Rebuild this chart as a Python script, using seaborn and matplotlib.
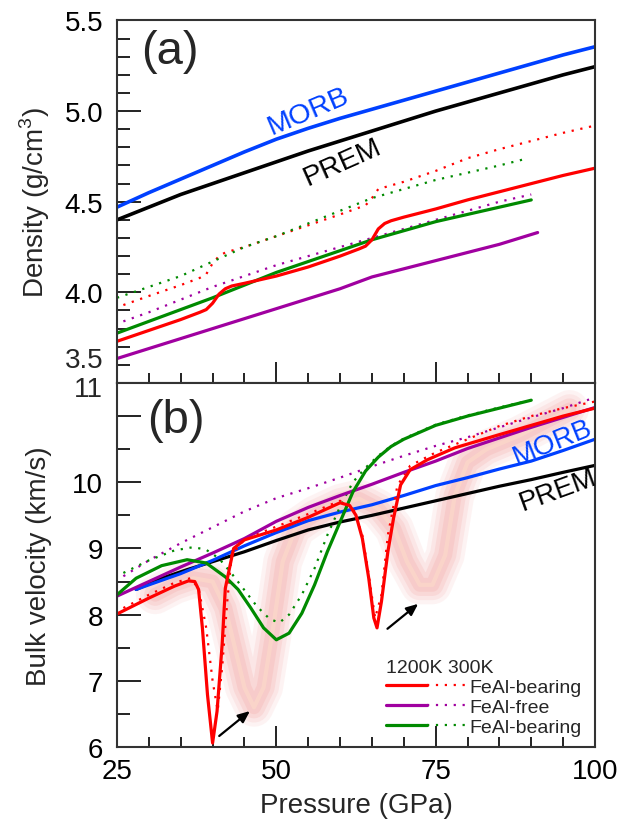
import matplotlib
matplotlib.use("Agg")
import matplotlib.pyplot as plt
import matplotlib.transforms as mtransforms
import seaborn as sns
import numpy as np
from matplotlib.lines import Line2D
from matplotlib.legend_handler import HandlerTuple
from matplotlib.ticker import MultipleLocator, FuncFormatter

# ---------------- data: panel (a) density ----------------
P_ref_a = [25, 30, 35, 40, 45, 50, 55, 60, 65, 70, 75, 80, 85, 90, 95, 100]
morb_a = [4.47, 4.55, 4.625, 4.70, 4.775, 4.845, 4.905, 4.96, 5.01, 5.06, 5.11, 5.16, 5.21, 5.26, 5.31, 5.355]
prem_a = [4.40, 4.47, 4.54, 4.60, 4.66, 4.72, 4.78, 4.835, 4.89, 4.945, 5.0, 5.05, 5.10, 5.15, 5.20, 5.245]

P_red_a = [25, 30, 35, 38, 39, 40, 41, 42, 43, 45, 50, 55, 60, 63, 64, 65, 66, 67, 68, 70, 75, 80, 85, 90, 95, 100]
red_hot_a = [3.73, 3.79, 3.85, 3.89, 3.905, 3.94, 3.99, 4.02, 4.035, 4.05, 4.09, 4.14, 4.20, 4.24, 4.255, 4.29, 4.35, 4.38, 4.395, 4.415, 4.46, 4.51, 4.555, 4.60, 4.645, 4.685]
P_red_cold_a = [26, 30, 35, 38, 39, 40, 41, 42, 45, 50, 55, 60, 64, 65, 66, 70, 75, 80, 85, 90, 95, 100]
red_cold_a = [3.93, 3.98, 4.04, 4.08, 4.10, 4.16, 4.20, 4.22, 4.25, 4.31, 4.37, 4.43, 4.48, 4.52, 4.57, 4.61, 4.67, 4.74, 4.79, 4.835, 4.88, 4.92]

P_pur_a = [25, 30, 35, 40, 45, 50, 55, 60, 65, 70, 75, 80, 85, 91]
pur_hot_a = [3.635, 3.69, 3.745, 3.80, 3.855, 3.91, 3.965, 4.02, 4.085, 4.13, 4.175, 4.22, 4.265, 4.33]
P_pur_cold_a = [26, 30, 35, 40, 45, 50, 55, 60, 65, 70, 75, 80, 85, 90]
pur_cold_a = [3.84, 3.89, 3.96, 4.03, 4.09, 4.15, 4.20, 4.25, 4.30, 4.35, 4.40, 4.45, 4.50, 4.54]

P_grn_a = [25, 30, 35, 40, 45, 50, 55, 60, 65, 70, 75, 80, 85, 90]
grn_hot_a = [3.775, 3.84, 3.905, 3.97, 4.04, 4.11, 4.17, 4.23, 4.29, 4.34, 4.39, 4.43, 4.47, 4.51]
P_grn_cold_a = [25, 30, 35, 40, 45, 50, 55, 60, 65, 70, 75, 80, 85, 89.5]
grn_cold_a = [3.97, 4.03, 4.09, 4.17, 4.25, 4.31, 4.38, 4.45, 4.52, 4.57, 4.62, 4.66, 4.70, 4.74]

# ---------------- data: panel (b) bulk velocity ----------------
P_prem_b = [28, 32, 36, 40, 45, 50, 55, 60, 65, 70, 75, 80, 85, 90, 95, 100]
prem_b = [8.38, 8.55, 8.68, 8.80, 8.95, 9.12, 9.28, 9.40, 9.50, 9.61, 9.72, 9.83, 9.94, 10.04, 10.15, 10.255]
P_morb_b = [28, 30, 35, 40, 45, 50, 55, 60, 65, 70, 75, 80, 85, 90, 95, 100]
morb_b = [8.38, 8.45, 8.62, 8.82, 9.04, 9.24, 9.42, 9.55, 9.66, 9.80, 9.95, 10.07, 10.20, 10.32, 10.48, 10.65]

P_pur_b = [25, 30, 35, 40, 45, 50, 55, 60, 65, 70, 75, 80, 85, 90, 95, 100]
pur_hot_b = [8.28, 8.50, 8.72, 8.93, 9.15, 9.41, 9.62, 9.80, 9.97, 10.15, 10.32, 10.51, 10.67, 10.83, 10.98, 11.13]
P_pur_cold_b = [26, 30, 35, 40, 45, 50, 55, 60, 65, 70, 75, 80, 85, 90, 95, 100]
pur_cold_b = [8.58, 8.82, 9.08, 9.32, 9.56, 9.76, 9.91, 10.07, 10.24, 10.40, 10.55, 10.68, 10.83, 10.98, 11.12, 11.28]

P_red_b = [25, 30, 34, 36.2, 37.2, 37.8, 38.4, 39.2, 40.0, 40.7, 41.5, 42.0, 43.3, 45, 50, 55, 60, 61.5, 62.5, 63.5, 64.5, 65.3, 65.8, 66.5, 67.5, 68.4, 69.5, 71, 73.7, 78, 85, 90, 95, 100]
red_hot_b = [8.01, 8.25, 8.43, 8.51, 8.50, 8.38, 7.80, 6.79, 6.06, 6.54, 7.55, 8.40, 9.00, 9.13, 9.28, 9.47, 9.69, 9.65, 9.50, 9.15, 8.55, 7.95, 7.80, 8.20, 8.95, 9.46, 9.96, 10.19, 10.34, 10.52, 10.72, 10.86, 11.00, 11.12]
P_red_cold_b = [26, 30, 34, 36.5, 37.8, 39, 40, 40.8, 41.5, 42.3, 43, 45, 50, 55, 60, 62, 63.5, 64.5, 65.5, 66.5, 67.5, 69, 71, 75, 80, 85, 90, 95, 100]
red_cold_b = [8.10, 8.30, 8.48, 8.55, 8.40, 7.80, 7.00, 6.55, 7.20, 8.20, 8.90, 9.14, 9.33, 9.52, 9.72, 9.62, 9.20, 8.60, 7.95, 8.30, 9.20, 9.95, 10.25, 10.45, 10.65, 10.85, 11.00, 11.12, 11.22]

P_grn_b = [25, 28, 32, 36, 39, 42, 44, 46, 48, 50, 52, 54, 56, 58, 60, 62, 64, 66, 68, 70, 75, 80, 85, 90]
grn_hot_b = [8.30, 8.55, 8.74, 8.83, 8.78, 8.57, 8.38, 8.10, 7.80, 7.62, 7.72, 8.02, 8.45, 8.95, 9.40, 9.85, 10.17, 10.38, 10.54, 10.65, 10.86, 11.00, 11.12, 11.24]
P_grn_cold_b = [26, 30, 34, 37, 39, 41, 43, 45, 47, 49, 50.5, 52, 54, 56, 58, 60, 62, 64, 66, 68, 70, 75, 80, 85, 89]
grn_cold_b = [8.63, 8.82, 8.97, 9.02, 8.98, 8.85, 8.62, 8.37, 8.12, 7.93, 7.88, 8.00, 8.30, 8.70, 9.20, 9.63, 10.00, 10.22, 10.40, 10.55, 10.66, 10.87, 11.01, 11.13, 11.22]

# highlighted (shifted) trend
P_glow = [31, 34, 37, 40, 42, 43.5, 45, 46.5, 48, 49.5, 51, 53, 56, 60, 63, 66, 68.5, 70.5, 72.5, 74.5, 76.5, 78, 80, 83, 88, 93, 96]
glow = [8.30, 8.45, 8.55, 8.50, 8.10, 7.50, 6.90, 6.60, 6.90, 7.80, 8.80, 9.30, 9.50, 9.68, 9.75, 9.60, 9.30, 8.80, 8.45, 8.45, 8.90, 9.80, 10.30, 10.50, 10.70, 10.95, 11.10]

legend_labels = ["FeAl-bearing", "FeAl-free", "FeAl-bearing"]

RED, PUR, GRN, BLU, BLK = "#ff0000", "#a000a0", "#008a00", "#0040ff", "#000000"
DOT = (0, (1, 3))

sns.set_style("ticks")
plt.rcParams["font.family"] = ["Liberation Sans", "DejaVu Sans"]
plt.rcParams["mathtext.fontset"] = "custom"
plt.rcParams["mathtext.rm"] = "Liberation Sans"

fig = plt.figure(figsize=(6.19, 8.29), dpi=100)
ax_a = fig.add_axes([0.189, 0.5368, 0.7722, 0.4373])
ax_b = fig.add_axes([0.189, 0.0977, 0.7722, 0.4391])


def draw(ax, x, y, color, dotted=False, lw=2.3, **kw):
    if dotted:
        sns.lineplot(x=x, y=y, ax=ax, color=color, lw=1.6, linestyle=DOT,
                     sort=False, estimator=None, errorbar=None, **kw)
    else:
        sns.lineplot(x=x, y=y, ax=ax, color=color, lw=lw,
                     sort=False, estimator=None, errorbar=None, **kw)


# panel (a)
draw(ax_a, P_ref_a, morb_a, BLU, lw=2.6)
draw(ax_a, P_ref_a, prem_a, BLK, lw=2.6)
draw(ax_a, P_red_cold_a, red_cold_a, RED, dotted=True)
draw(ax_a, P_pur_cold_a, pur_cold_a, PUR, dotted=True)
draw(ax_a, P_grn_cold_a, grn_cold_a, GRN, dotted=True)
draw(ax_a, P_pur_a, pur_hot_a, PUR)
draw(ax_a, P_grn_a, grn_hot_a, GRN)
draw(ax_a, P_red_a, red_hot_a, RED)

# panel (b) glow
for lw_, a_ in [(28, 0.11), (22, 0.14), (16, 0.18), (10, 0.20)]:
    sns.lineplot(x=P_glow, y=glow, ax=ax_b, color="#f39a98", lw=lw_, alpha=a_,
                 sort=False, estimator=None, errorbar=None,
                 solid_capstyle="round", solid_joinstyle="round", zorder=1)
sns.lineplot(x=P_glow, y=glow, ax=ax_b, color="#ffe0c8", lw=3, alpha=0.45,
             sort=False, estimator=None, errorbar=None, zorder=1)

draw(ax_b, P_prem_b, prem_b, BLK)
draw(ax_b, P_morb_b, morb_b, BLU)
draw(ax_b, P_pur_cold_b, pur_cold_b, PUR, dotted=True)
draw(ax_b, P_grn_cold_b, grn_cold_b, GRN, dotted=True)
draw(ax_b, P_red_cold_b, red_cold_b, RED, dotted=True)
draw(ax_b, P_pur_b, pur_hot_b, PUR)
draw(ax_b, P_grn_b, grn_hot_b, GRN)
draw(ax_b, P_red_b, red_hot_b, RED)

# axes styling
TICK_FS = 20
for ax in (ax_a, ax_b):
    ax.set_xlim(25, 100)
    ax.xaxis.set_major_locator(MultipleLocator(25))
    ax.xaxis.set_minor_locator(MultipleLocator(5))
    ax.tick_params(which="major", axis="y", direction="in", length=17, width=1.4,
                   labelsize=TICK_FS, pad=10, colors="#222222", labelcolor="black")
    ax.tick_params(which="minor", axis="y", direction="in", length=9, width=1.4,
                   colors="#222222")
    ax.tick_params(which="major", axis="x", direction="in", length=15, width=1.4,
                   labelsize=TICK_FS, pad=8, colors="#222222", labelcolor="black")
    ax.tick_params(which="minor", axis="x", direction="in", length=7, width=1.4,
                   colors="#222222")
    for s in ax.spines.values():
        s.set_linewidth(1.5)
        s.set_color("#333333")
        s.set_visible(True)
    ax.set_xlabel("")
    ax.yaxis.set_label_coords(-0.137, 0.5)

ax_a.set_ylim(3.5, 5.5)
ax_a.yaxis.set_major_locator(MultipleLocator(0.5))
ax_a.yaxis.set_minor_locator(MultipleLocator(0.1))
ax_a.yaxis.set_major_formatter(FuncFormatter(lambda v, p: "" if abs(v - 3.5) < 1e-6 else f"{v:.1f}"))
ax_a.tick_params(axis="x", labelbottom=False)
ax_a.set_ylabel("Density (g/cm$^3$)", fontsize=20)

ax_b.set_ylim(6, 11.5)
ax_b.yaxis.set_major_locator(MultipleLocator(1))
ax_b.yaxis.set_minor_locator(MultipleLocator(0.5))
ax_b.yaxis.set_major_formatter(FuncFormatter(lambda v, p: "" if abs(v - 11) < 1e-6 else f"{v:.0f}"))
ax_b.set_ylabel("Bulk velocity (km/s)", fontsize=20)
ax_b.set_xlabel("Pressure (GPa)", fontsize=20, labelpad=6)

# the two crowded tick labels at the panel junction are nudged upward, as in the original
tr_a = ax_a.get_yaxis_text1_transform(10)[0] + mtransforms.ScaledTranslation(0, 0.26, fig.dpi_scale_trans)
ax_a.text(0, 3.5, "3.5", transform=tr_a, fontsize=TICK_FS, ha="right", va="center_baseline")
tr_b = ax_b.get_yaxis_text1_transform(10)[0] + mtransforms.ScaledTranslation(0, 0.30, fig.dpi_scale_trans)
ax_b.text(0, 11, "11", transform=tr_b, fontsize=TICK_FS, ha="right", va="center_baseline")

# panel labels and annotations
ax_a.text(0.111, 0.916, "(a)", transform=ax_a.transAxes, fontsize=34,
          ha="center", va="center")
ax_b.text(0.123, 0.898, "(b)", transform=ax_b.transAxes, fontsize=34,
          ha="center", va="center")

ax_a.text(55.0, 5.0, "MORB", color=BLU, fontsize=20.5, rotation=23,
          ha="center", va="center", rotation_mode="anchor")
ax_a.text(60.4, 4.718, "PREM", color=BLK, fontsize=20.5, rotation=24,
          ha="center", va="center", rotation_mode="anchor")
ax_b.text(93.4, 10.61, "MORB", color=BLU, fontsize=20, rotation=22,
          ha="center", va="center", rotation_mode="anchor")
ax_b.text(94.2, 9.88, "PREM", color=BLK, fontsize=20, rotation=20,
          ha="center", va="center", rotation_mode="anchor")

arrow_kw = dict(arrowstyle="-|>,head_length=0.7,head_width=0.3", color="black", lw=1.6)
ax_b.annotate("", xy=(46.2, 6.57), xytext=(40.7, 6.14), arrowprops=arrow_kw)
ax_b.annotate("", xy=(72.6, 8.19), xytext=(67.1, 7.76), arrowprops=arrow_kw)

# legend
handles = []
for c in (RED, PUR, GRN):
    handles.append((Line2D([], [], color=c, lw=2.3),
                    Line2D([], [], color=c, lw=1.6, linestyle=DOT)))
leg = ax_b.legend(handles=handles, labels=legend_labels,
                  handler_map={tuple: HandlerTuple(ndivide=None, pad=0)},
                  handlelength=4.3, handletextpad=0.0, title="1200K 300K",
                  alignment="left", frameon=False, fontsize=14, title_fontsize=14,
                  loc="lower left", bbox_to_anchor=(0.562, 0.03), borderpad=0,
                  labelspacing=0.12, borderaxespad=0)

fig.savefig("out.png", dpi=100)
